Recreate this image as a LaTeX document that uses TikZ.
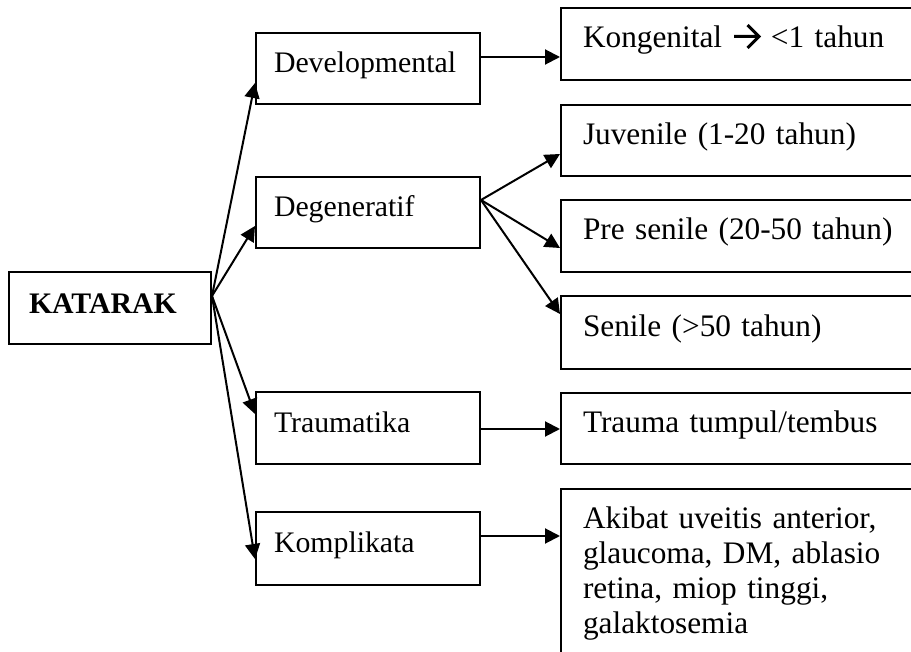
\documentclass[tikz,border=0pt]{standalone}
\usepackage{fontspec}
\setmainfont{Liberation Serif}
\usetikzlibrary{arrows.meta,calc}
% bold chevron arrow used inside the text
\newcommand{\chevarrow}{\tikz[baseline=0pt, x=1pt, y=1pt]
  \draw[line width=3pt, line join=miter, line cap=butt]
  (0,11.5) -- (25,11.5) (13.5,23) -- (25,11.5) -- (13.5,0);}
\begin{document}
\begin{tikzpicture}[x=1pt,y=-1pt,
  txt/.style={font=\fontsize{29.8}{35}\selectfont},
  rtxt/.style={font=\fontsize{31.3}{35}\selectfont},
  box/.style={draw, line width=2pt, rectangle, anchor=north west,
    align=left, inner ysep=0pt},
  leftbox/.style={box, txt, inner xsep=18pt, text width=188pt,
    text height=20pt, text depth=12pt},
  rightbox/.style={box, rtxt, inner xsep=22pt, text width=360pt,
    text height=21pt, text depth=13pt},
  link/.style={line width=2pt, -{Triangle[length=15pt,width=15pt]}}]
\useasboundingbox (0,0) rectangle (911,652);
\fill[white] (0,0) rectangle (911,652);
\clip (0,0) rectangle (911,652);

% root
\node[box, inner xsep=20pt, text width=162pt, minimum height=72pt,
  text height=20pt, text depth=8pt, font=\fontsize{29.8}{35}\selectfont\bfseries]
  (kat) at (8,271) {KATARAK};

% first level
\node[leftbox, minimum height=71pt] (dev) at (255,32)  {Developmental};
\node[leftbox, minimum height=71pt] (deg) at (255,176) {Degeneratif};
\node[leftbox, minimum height=72pt] (tra) at (255,391) {Traumatika};
\node[leftbox, minimum height=73pt] (kom) at (255,511) {Komplikata};

% second level
\node[rightbox, minimum height=72pt] (kon) at (560,7)
  {Kongenital \chevarrow{} <1 tahun};
\node[rightbox, minimum height=71pt] (juv) at (560,104) {Juvenile (1-20 tahun)};
\node[rightbox, minimum height=72pt] (pre) at (560,199) {Pre senile (20-50 tahun)};
\node[rightbox, minimum height=73pt] (sen) at (560,295) {Senile (>50 tahun)};
\node[rightbox, minimum height=71pt] (tt)  at (560,392) {Trauma tumpul/tembus};
\node[box, rtxt, inner xsep=22pt, inner ysep=17.6pt, text width=360pt]
  (aki) at (560,488)
  {Akibat uveitis anterior,\\ glaucoma, DM, ablasio\\ retina, miop tinggi,\\ galaktosemia};

% connectors from the root
\coordinate (ks) at ([yshift=12pt]kat.east);
\draw[link] (ks) -- ([yshift=-14.5pt]dev.west);
\draw[link] (ks) -- ([yshift=-13.5pt]deg.west);
\draw[link] (ks) -- ([yshift=14pt]tra.west);
\draw[link] (ks) -- ([yshift=-10.5pt]kom.west);

% connectors from Degeneratif
\coordinate (ds) at ([yshift=12.5pt]deg.east);
\draw[link] (ds) -- ([yshift=-13.5pt]juv.west);
\draw[link] (ds) -- ([yshift=-12pt]pre.west);
\draw[link] (ds) -- ([yshift=18.5pt]sen.west);

% straight connectors
\coordinate (d1) at ([yshift=11.5pt]dev.east);
\draw[link] (d1) -- (d1 -| kon.west);
\coordinate (t1) at ([yshift=-1pt]tra.east);
\draw[link] (t1) -- (t1 -| tt.west);
\coordinate (k1) at ([yshift=12.5pt]kom.east);
\draw[link] (k1) -- (k1 -| aki.west);
\end{tikzpicture}
\end{document}
